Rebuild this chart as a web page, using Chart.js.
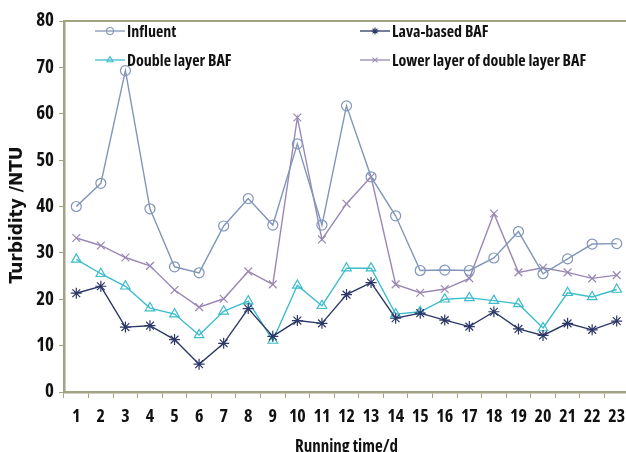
<!DOCTYPE html>
<html>
<head>
<meta charset="utf-8">
<script src="https://cdn.jsdelivr.net/npm/chart.js@4/dist/chart.umd.min.js"></script>
<style>
  html, body { margin: 0; padding: 0; background: #fff; overflow: hidden; }
  #wrap { position: absolute; left: 0; top: 0; }
</style>
</head>
<body>
<div id="wrap"><canvas id="c" width="640" height="462"></canvas></div>
<script>
// Running time (days)
const days = ['1','2','3','4','5','6','7','8','9','10','11','12','13','14','15','16','17','18','19','20','21','22','23'];

// Turbidity (NTU) per series
const influent     = [40, 45, 69.3, 39.5, 27, 25.7, 35.8, 41.7, 36, 53.5, 36, 61.7, 46.4, 38, 26.2, 26.3, 26.2, 28.9, 34.6, 25.5, 28.7, 31.9, 32];
const lavaBAF      = [21.3, 22.8, 14, 14.3, 11.3, 6, 10.5, 18, 12, 15.4, 14.8, 21, 23.6, 15.9, 17, 15.5, 14.1, 17.3, 13.6, 12.2, 14.8, 13.4, 15.3];
const doubleBAF    = [28.6, 25.5, 22.8, 18.1, 16.8, 12.3, 17.4, 19.6, 11.1, 23, 18.6, 26.7, 26.7, 16.8, 17.3, 20, 20.3, 19.7, 19, 13.8, 21.4, 20.5, 22.1];
const lowerLayer   = [33.2, 31.6, 29, 27.2, 22, 18.3, 20.1, 26, 23.2, 59.2, 32.9, 40.6, 46.4, 23.2, 21.4, 22.2, 24.5, 38.5, 25.8, 26.8, 25.8, 24.5, 25.2];

// Y axis range
const yMin = 0, yMax = 80, yStep = 10;
const yTitle = 'Turbidity /NTU';

const AXIS_COLOR = '#a2a284';

// Pick the narrowest installed sans face for labels (narrow family or a condensed width)
function pickNarrowFont() {
  const ctx = document.createElement('canvas').getContext('2d');
  const sample = 'Double layer BAF 0123456789';
  const measure = (font) => { ctx.font = '10px serif'; ctx.font = font; return ctx.measureText(sample).width; };
  const mono = measure('bold 20px monospace');
  const candidates = [
    { family: "'Liberation Sans Narrow'", stretch: '' },
    { family: "'DejaVu Sans Condensed'", stretch: '' },
    { family: "'Roboto Condensed'", stretch: '' },
    { family: "'DejaVu Sans'", stretch: 'condensed' },
    { family: "'Noto Sans'", stretch: 'condensed' },
    { family: "'Open Sans'", stretch: 'condensed' },
    { family: "Roboto", stretch: 'condensed' },
    { family: "Roboto", stretch: '' },
    { family: "Lato", stretch: '' }
  ];
  let best = null, bestW = Infinity;
  for (const c of candidates) {
    const plain = measure('bold 20px ' + c.family + ', monospace');
    if (Math.abs(plain - mono) < 0.5) continue; // not installed
    let wv = plain;
    if (c.stretch) {
      const st = measure('bold ' + c.stretch + ' 20px ' + c.family + ', monospace');
      if (st > plain * 0.97) continue; // no condensed face
      wv = st;
    }
    if (wv < bestW) { bestW = wv; best = c; }
  }
  if (!best) best = { family: 'sans-serif', stretch: '' };
  return { family: best.family + ', sans-serif', weight: best.stretch ? 'bold ' + best.stretch : 'bold' };
}
const NF = pickNarrowFont();
const LEGEND_SIZE = 16;
const fontStr = (size) => NF.weight + ' ' + size + 'px ' + NF.family;

// Top frame line, rotated y title and a two-column legend inside the plot area
const frameAndLegend = {
  id: 'frameAndLegend',
  afterDraw(chart) {
    const { ctx, chartArea: a } = chart;
    ctx.save();
    ctx.strokeStyle = AXIS_COLOR;
    ctx.lineWidth = 2;
    ctx.beginPath();
    ctx.moveTo(a.left, a.top);
    ctx.lineTo(a.right, a.top);
    ctx.stroke();

    // y axis title
    ctx.save();
    ctx.translate(18, a.top + 194);
    ctx.rotate(-Math.PI / 2);
    ctx.font = "bold 17px 'DejaVu Sans', sans-serif";
    ctx.fillStyle = '#111';
    ctx.textAlign = 'center';
    ctx.textBaseline = 'middle';
    ctx.fillText(yTitle, 0, 0);
    ctx.restore();

    const colX = [a.left + 31, a.left + 296];
    const rowY = [a.top + 10, a.top + 39];
    ctx.font = fontStr(LEGEND_SIZE);
    ctx.textBaseline = 'middle';
    ctx.textAlign = 'left';
    chart.data.datasets.forEach((ds, i) => {
      const x = colX[i % 2];
      const y = rowY[Math.floor(i / 2)];
      ctx.strokeStyle = ds.borderColor;
      ctx.fillStyle = 'rgba(255,255,255,0)';
      ctx.lineWidth = 1.3;
      ctx.beginPath();
      ctx.moveTo(x, y);
      ctx.lineTo(x + 30, y);
      ctx.stroke();
      ctx.lineWidth = 1.1;
      Chart.helpers.drawPoint(ctx, {
        pointStyle: ds.pointStyle, radius: 3.5, rotation: 0, borderWidth: 1.1
      }, x + 15, y);
      ctx.fillStyle = '#111';
      ctx.fillText(ds.label, x + 32, y + 1);
    });
    ctx.restore();
  }
};

function series(label, data, color, style, radius) {
  return {
    label, data,
    borderColor: color,
    backgroundColor: 'transparent',
    pointBorderColor: color,
    pointBackgroundColor: 'transparent',
    pointStyle: style,
    pointRadius: radius,
    pointBorderWidth: 1.2,
    borderWidth: 1.4,
    tension: 0,
    fill: false
  };
}

new Chart(document.getElementById('c'), {
  type: 'line',
  data: {
    labels: days,
    datasets: [
      series('Influent', influent, '#8196b9', 'circle', 5),
      series('Lava-based BAF', lavaBAF, '#2c3868', 'star', 5.5),
      series('Double layer BAF', doubleBAF, '#3dbccb', 'triangle', 5.5),
      series('Lower layer of double layer BAF', lowerLayer, '#9a88b4', 'crossRot', 5.5)
    ]
  },
  options: {
    responsive: false,
    animation: false,
    devicePixelRatio: 1,
    layout: { padding: { top: 21, right: 11, left: 0, bottom: 0 } },
    plugins: { legend: { display: false }, tooltip: { enabled: false } },
    scales: {
      x: {
        offset: true,
        border: { display: true, color: AXIS_COLOR, width: 2.5 },
        grid: { display: true, drawOnChartArea: false, drawTicks: true, tickLength: 6, color: AXIS_COLOR, offset: true },
        ticks: { color: '#111', padding: 8, maxRotation: 0, autoSkip: false, font: { family: NF.family, size: 18, weight: NF.weight } },
        title: { display: true, text: 'Running time/d', color: '#111', padding: { top: 0, bottom: 5 }, font: { family: NF.family, size: 17, weight: NF.weight } },
        afterFit(scale) { scale.height = 70; }
      },
      y: {
        min: yMin, max: yMax,
        border: { display: true, color: AXIS_COLOR, width: 2.5 },
        grid: { display: true, drawOnChartArea: false, drawTicks: true, tickLength: 5, color: AXIS_COLOR },
        ticks: { stepSize: yStep, color: '#111', padding: 5, font: { family: NF.family, size: 19, weight: NF.weight } },
        afterFit(scale) { scale.width = 64; }
      }
    }
  },
  plugins: [frameAndLegend]
});
</script>
</body>
</html>
